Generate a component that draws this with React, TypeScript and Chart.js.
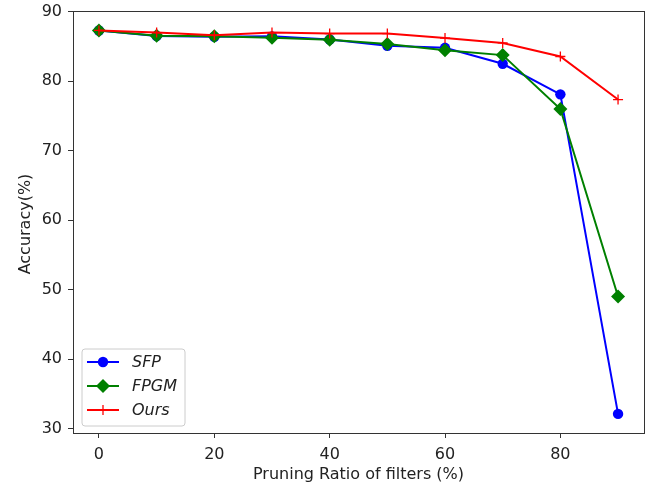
import React, { useEffect, useRef } from "react";
import { Chart, registerables } from "chart.js";
Chart.register(...registerables);

const ratios = [0, 10, 20, 30, 40, 50, 60, 70, 80, 90];
const sfp = [87.3, 86.5, 86.4, 86.45, 86.0, 85.1, 84.8, 82.5, 78.1, 32.1];
const fpgm = [87.3, 86.55, 86.45, 86.25, 85.95, 85.35, 84.45, 83.75, 76.0, 49.0];
const ours = [87.3, 87.0, 86.6, 87.0, 86.85, 86.85, 86.2, 85.5, 83.55, 77.35];
const xTicks = [0, 20, 40, 60, 80];
const yTicks = [30, 40, 50, 60, 70, 80, 90];
const seriesNames = ["SFP", "FPGM", "Ours"];
const seriesColors = ["#0000ff", "#008000", "#ff0000"];

const FONT = "DejaVu Sans";
const FS = 16;

const decorPlugin = {
  id: "decor",
  afterDatasetsDraw(chart: any) {
    const { ctx, chartArea } = chart;
    const { left, right, top, bottom } = chartArea;
    ctx.save();
    // frame
    ctx.strokeStyle = "#333333";
    ctx.lineWidth = 1;
    ctx.strokeRect(Math.round(left) + 0.5, Math.round(top) + 0.5, Math.round(right - left), Math.round(bottom - top));
    // axis titles
    ctx.fillStyle = "#222222";
    ctx.font = `${FS}px "${FONT}"`;
    ctx.textAlign = "center";
    ctx.textBaseline = "middle";
    ctx.fillText("Pruning Ratio of filters (%)", (left + right) / 2, 475);
    ctx.save();
    ctx.translate(26, 224);
    ctx.rotate(-Math.PI / 2);
    ctx.fillText("Accuracy(%)", 0, 0);
    ctx.restore();

    // legend
    const bx = 82, by = 349, bw = 103, bh = 77, r = 3;
    ctx.beginPath();
    ctx.moveTo(bx + r, by);
    ctx.lineTo(bx + bw - r, by);
    ctx.quadraticCurveTo(bx + bw, by, bx + bw, by + r);
    ctx.lineTo(bx + bw, by + bh - r);
    ctx.quadraticCurveTo(bx + bw, by + bh, bx + bw - r, by + bh);
    ctx.lineTo(bx + r, by + bh);
    ctx.quadraticCurveTo(bx, by + bh, bx, by + bh - r);
    ctx.lineTo(bx, by + r);
    ctx.quadraticCurveTo(bx, by, bx + r, by);
    ctx.closePath();
    ctx.fillStyle = "rgba(255,255,255,0.8)";
    ctx.fill();
    ctx.strokeStyle = "#cccccc";
    ctx.lineWidth = 1;
    ctx.stroke();

    const rows = [362, 386, 410];
    seriesNames.forEach((name, i) => {
      const y = rows[i];
      const c = seriesColors[i];
      ctx.strokeStyle = c;
      ctx.lineWidth = 2;
      ctx.beginPath();
      ctx.moveTo(87, y);
      ctx.lineTo(119, y);
      ctx.stroke();
      const mx = 103;
      ctx.fillStyle = c;
      if (i === 0) {
        ctx.beginPath();
        ctx.arc(mx, y, 5.2, 0, Math.PI * 2);
        ctx.fill();
      } else if (i === 1) {
        const s = 7;
        ctx.beginPath();
        ctx.moveTo(mx, y - s);
        ctx.lineTo(mx + s, y);
        ctx.lineTo(mx, y + s);
        ctx.lineTo(mx - s, y);
        ctx.closePath();
        ctx.fill();
      } else {
        ctx.lineWidth = 1.3;
        ctx.beginPath();
        ctx.moveTo(mx - 5, y);
        ctx.lineTo(mx + 5, y);
        ctx.moveTo(mx, y - 5);
        ctx.lineTo(mx, y + 5);
        ctx.stroke();
      }
      ctx.fillStyle = "#222222";
      ctx.font = `italic ${FS}px "${FONT}"`;
      ctx.textAlign = "left";
      ctx.textBaseline = "middle";
      ctx.fillText(name, 132, y + 1);
    });
    ctx.restore();
  },
};

export default function App() {
  const ref = useRef<HTMLCanvasElement | null>(null);
  useEffect(() => {
    if (!ref.current) return;
    const mk = (vals: number[]) => ratios.map((x, i) => ({ x, y: vals[i] }));
    const chart = new Chart(ref.current, {
      type: "line",
      data: {
        datasets: [
          {
            label: seriesNames[0],
            data: mk(sfp),
            borderColor: seriesColors[0],
            backgroundColor: seriesColors[0],
            borderWidth: 2,
            pointStyle: "circle",
            pointRadius: 5.2,
            pointBorderWidth: 0,
            tension: 0,
            order: 3,
          },
          {
            label: seriesNames[1],
            data: mk(fpgm),
            borderColor: seriesColors[1],
            backgroundColor: seriesColors[1],
            borderWidth: 2,
            pointStyle: "rectRot",
            pointRadius: 7,
            pointBorderWidth: 0,
            tension: 0,
            order: 2,
          },
          {
            label: seriesNames[2],
            data: mk(ours),
            borderColor: seriesColors[2],
            backgroundColor: seriesColors[2],
            borderWidth: 2,
            pointStyle: "cross",
            pointRadius: 5,
            pointBorderWidth: 1.3,
            tension: 0,
            order: 1,
          },
        ],
      },
      options: {
        responsive: false,
        animation: false,
        layout: { padding: { top: 11, right: 16, left: 0, bottom: 0 } },
        plugins: { legend: { display: false }, tooltip: { enabled: false } },
        scales: {
          x: {
            type: "linear",
            min: -4.5,
            max: 94.5,
            afterBuildTicks: (s: any) => {
              s.ticks = xTicks.map((v) => ({ value: v }));
            },
            afterFit: (s: any) => {
              s.height = 52;
              s.paddingLeft = 0;
              s.paddingRight = 0;
            },
            border: { display: false },
            grid: { drawOnChartArea: false, tickLength: 5, tickColor: "#333333", tickWidth: 1 },
            ticks: {
              color: "#222222",
              font: { family: FONT, size: FS },
              padding: 7,
              maxRotation: 0,
              autoSkip: false,
            },
          },
          y: {
            type: "linear",
            min: 29.35,
            max: 90.1,
            afterBuildTicks: (s: any) => {
              s.ticks = yTicks.map((v) => ({ value: v }));
            },
            afterFit: (s: any) => {
              s.width = 73;
              s.paddingTop = 0;
              s.paddingBottom = 0;
            },
            border: { display: false },
            grid: { drawOnChartArea: false, tickLength: 5, tickColor: "#333333", tickWidth: 1 },
            ticks: {
              color: "#222222",
              font: { family: FONT, size: FS },
              padding: 6,
              autoSkip: false,
            },
          },
        },
      },
      plugins: [decorPlugin],
    });
    return () => chart.destroy();
  }, []);
  return (
    <div style={{ position: "absolute", left: 0, top: 0, width: 660, height: 485, background: "#fff" }}>
      <canvas ref={ref} width={660} height={485} />
    </div>
  );
}
